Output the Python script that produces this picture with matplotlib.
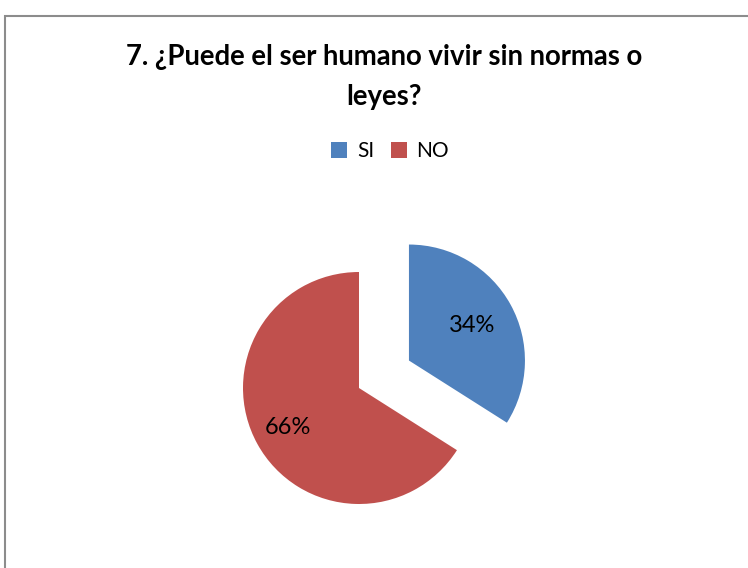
import matplotlib
matplotlib.use("Agg")
import matplotlib.pyplot as plt
from matplotlib.patches import Rectangle
import math

categories = ["SI", "NO"]
values = [34, 66]
colors = ["#4F81BD", "#C0504D"]
title = "7. ¿Puede el ser humano vivir sin normas o\nleyes?"

W, H = 748, 568
fig = plt.figure(figsize=(W / 100, H / 100), dpi=100)
fig.patch.set_facecolor("white")

ax = fig.add_axes([0, 0, 1, 1])
ax.set_xlim(0, W)
ax.set_ylim(0, H)
ax.set_aspect("equal")
ax.axis("off")

# chart frame
ax.add_patch(Rectangle((5.5, -20), W + 40, H - 15.5 + 20, fill=False,
                       edgecolor="#8C8C8C", linewidth=1.5))

radius = 116
center = (359, H - 388)
wedges, texts, autotexts = ax.pie(
    values, colors=colors, startangle=90, counterclock=False,
    center=center, radius=radius, explode=[57, 0],
    autopct="%1.0f%%", pctdistance=0.65,
    textprops=dict(fontsize=17, family="Lato", color="black"),
    wedgeprops=dict(linewidth=0),
)
# per-slice label distance
label_dist = [0.62, 0.70]
for w, t, d in zip(wedges, autotexts, label_dist):
    th = math.radians(0.5 * (w.theta1 + w.theta2))
    cx, cy = w.center
    t.set_position((cx + d * w.r * math.cos(th), cy + d * w.r * math.sin(th)))

ax.set_xlim(0, W)
ax.set_ylim(0, H)

fig.text(0.5 * (124 + 645) / W, 1 - 77 / H, title, ha="center", va="center",
         fontsize=19.8, fontweight="bold", family="Lato", linespacing=1.65)

leg = fig.legend(wedges, categories, loc="center", bbox_to_anchor=(390 / W, 1 - 151 / H),
                 ncol=2, frameon=False, handlelength=0.8, handleheight=0.8,
                 handletextpad=0.45, columnspacing=0.8,
                 prop=dict(family="Lato", size=15))

fig.savefig("out.png", dpi=100, facecolor="white")
